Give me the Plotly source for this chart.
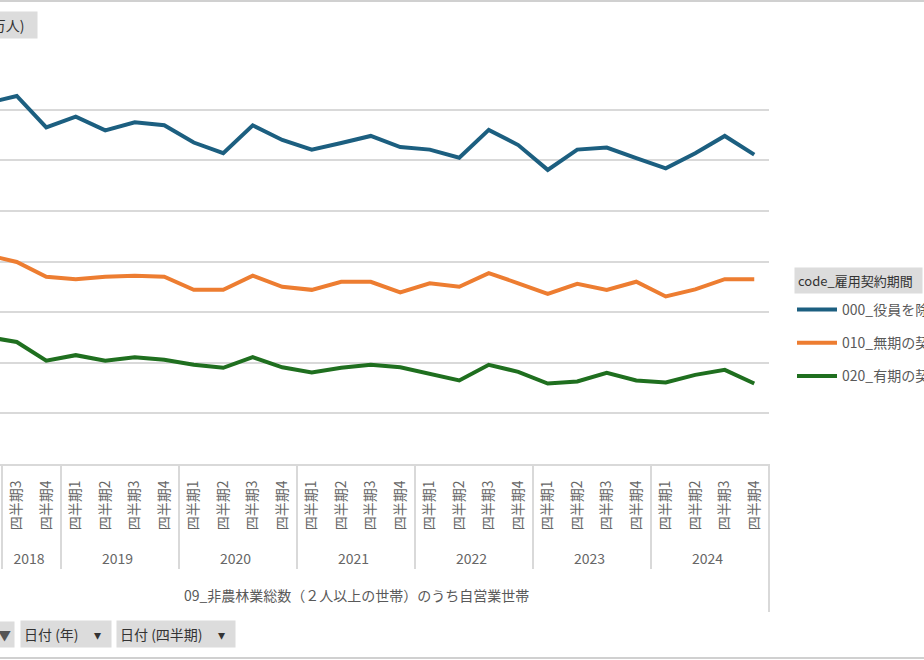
import plotly.graph_objects as go

# ---------------- data ----------------
years = (["2018"] * 4 + ["2019"] * 4 + ["2020"] * 4 + ["2021"] * 4 +
         ["2022"] * 4 + ["2023"] * 4 + ["2024"] * 4)
quarter_names = ["四半期1", "四半期2", "四半期3", "四半期4"]
quarters = quarter_names * 7

series_names = ["000_役員を除く雇用者", "010_無期の契約", "020_有期の契約"]

s000 = [None, 71.3, 72.7, 66.5,
        68.6, 65.9, 67.5, 66.9,
        63.5, 61.4, 66.9, 64.0,
        62.1, 63.4, 64.8, 62.6,
        62.1, 60.5, 66.0, 63.0,
        58.1, 62.1, 62.5, 60.4,
        58.4, 61.4, 64.8, 61.1]
s010 = [None, 41.3, 39.9, 37.0,
        36.5, 37.0, 37.2, 37.0,
        34.4, 34.4, 37.2, 35.0,
        34.4, 36.0, 36.0, 33.9,
        35.7, 35.0, 37.7, 35.7,
        33.6, 35.6, 34.4, 36.0,
        33.1, 34.5, 36.5, 36.5]
s020 = [None, 25.1, 24.1, 20.4,
        21.5, 20.4, 21.1, 20.6,
        19.6, 19.0, 21.1, 19.1,
        18.1, 19.0, 19.6, 19.1,
        17.8, 16.5, 19.6, 18.2,
        15.9, 16.3, 18.0, 16.5,
        16.1, 17.6, 18.6, 15.9]

colors = ["#1c5f80", "#ed7d31", "#1f6f1f"]

x_title = "09_非農林業総数（２人以上の世帯）のうち自営業世帯"
legend_header = "code_雇用契約期間"
value_button = "人数 (万人)"
filter_buttons = ["日付 (年)", "日付 (四半期)"]

# ---------------- figure ----------------
W, H = 924, 660
ML, MR, MT, MB = 0, 155, 59, 196
PW = W - ML - MR
PH = H - MT - MB


def px_x(px):
    return (px - ML) / PW


def px_y(py):
    return (H - MB - py) / PH


FONT = "Noto Sans CJK JP, Noto Sans, sans-serif"
NB = "\u00a0"

# pad quarter labels at their far end so the year row sits lower
quarter_labels = [NB * 5 + q for q in quarters]

fig = go.Figure()
for name, vals, col in zip(series_names, [s000, s010, s020], colors):
    fig.add_trace(go.Scatter(
        x=[years, quarter_labels], y=vals, name=name, mode="lines",
        line=dict(color=col, width=4), legendgroup=name,
        connectgaps=False,
    ))

fig.update_layout(
    width=W, height=H,
    margin=dict(l=ML, r=MR, t=MT, b=MB, autoexpand=False),
    paper_bgcolor="white", plot_bgcolor="white",
    font=dict(family=FONT, color="#595959", size=13),
    showlegend=True,
    legend=dict(
        x=px_x(792), y=px_y(294), xanchor="left", yanchor="top",
        font=dict(size=14, color="#595959", family=FONT),
        tracegroupgap=12, traceorder="grouped", itemwidth=40,
        bgcolor="rgba(0,0,0,0)",
    ),
    xaxis=dict(
        type="multicategory",
        range=[1.432, 27.5],
        showgrid=False,
        showline=True, linecolor="#d9d9d9", linewidth=2,
        tickangle=-90,
        tickfont=dict(size=14, color="#666666", family=FONT),
        showdividers=True, dividercolor="#d9d9d9", dividerwidth=2,
        ticks="", ticklabelstandoff=9,
    ),
    yaxis=dict(
        range=[0, 80], dtick=10,
        showgrid=True, gridcolor="#d9d9d9", gridwidth=2,
        showticklabels=False, zeroline=False, showline=False,
    ),
)

btn_font = dict(size=14, color="#333333", family=FONT)
annotations = [
    dict(text=x_title, x=px_x(356), y=px_y(595), xref="paper", yref="paper",
         yanchor="middle", showarrow=False,
         font=dict(size=14, color="#595959", family=FONT)),
    dict(text=legend_header + NB * 2, x=px_x(794), y=px_y(280), xref="paper", yref="paper",
         xanchor="left", yanchor="middle", showarrow=False, bgcolor="#dcdcdc", borderpad=3,
         font=dict(size=13, color="#333333", family=FONT)),
    dict(text=value_button + NB * 3, x=px_x(38), y=px_y(25), xref="paper", yref="paper",
         xanchor="right", yanchor="middle", showarrow=False, bgcolor="#dcdcdc", borderpad=3,
         font=btn_font),
    dict(text="▼", x=px_x(15), y=px_y(634), xref="paper", yref="paper",
         xanchor="right", yanchor="middle", showarrow=False, bgcolor="#dcdcdc", borderpad=3,
         font=dict(size=13, color="#555555", family=FONT)),
    dict(text=filter_buttons[0] + NB * 5 + "▾" + NB * 2, x=px_x(20), y=px_y(634),
         xref="paper", yref="paper", xanchor="left", yanchor="middle", showarrow=False,
         bgcolor="#dcdcdc", borderpad=3, font=btn_font),
    dict(text=filter_buttons[1] + NB * 5 + "▾" + NB * 2, x=px_x(116), y=px_y(634),
         xref="paper", yref="paper", xanchor="left", yanchor="middle", showarrow=False,
         bgcolor="#dcdcdc", borderpad=3, font=btn_font),
]
fig.update_layout(annotations=annotations)

shapes = [
    dict(type="line", xref="paper", yref="paper", x0=px_x(0), x1=px_x(W),
         y0=px_y(1), y1=px_y(1), line=dict(color="#d0d0d0", width=2)),
    dict(type="line", xref="paper", yref="paper", x0=px_x(0), x1=px_x(W),
         y0=px_y(658), y1=px_y(658), line=dict(color="#d0d0d0", width=2)),
    dict(type="line", xref="paper", yref="paper", x0=1, x1=1,
         y0=px_y(464), y1=px_y(612), line=dict(color="#d9d9d9", width=2)),
]
fig.update_layout(shapes=shapes)

fig.write_html("out.html")
